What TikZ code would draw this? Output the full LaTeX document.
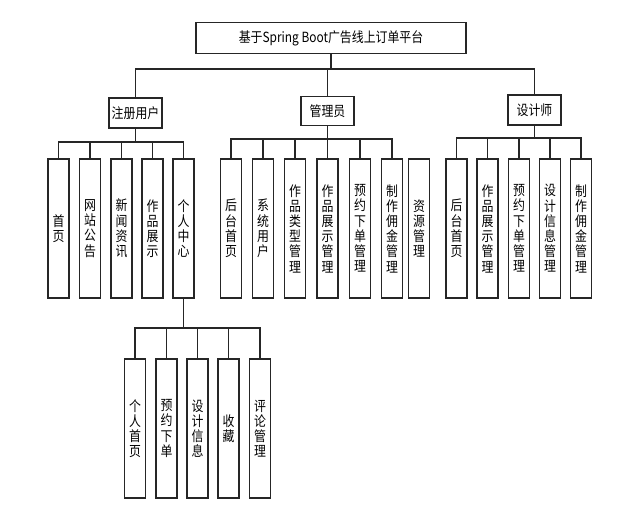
\documentclass[tikz,border=0pt]{standalone}
\usepackage{fontspec}
\newfontfamily\cjk[FakeStretch=0.85]{Noto Sans CJK SC}
\tikzset{
  box/.style={draw=black!85, line width=1.1pt, inner sep=0pt, align=center,
    font=\cjk\fontsize{14}{15.2}\selectfont},
  headbox/.style={box, minimum width=53pt, minimum height=30pt},
  leaf/.style={box, minimum width=21pt, minimum height=139pt},
  conn/.style={draw=black!85, line width=1.1pt}
}
\begin{document}
\begin{tikzpicture}[x=1pt,y=-1pt]
\useasboundingbox (0,0) rectangle (628,516);
% title
\node[box, minimum width=270pt, minimum height=31pt] (root) at (331,38) {基于Spring Boot广告线上订单平台};
% level 2
\node[headbox] (u) at (135.5,113) {注册用户};
\node[headbox, minimum height=29pt] (a) at (327.5,111) {管理员};
\node[headbox] (d) at (534.5,110) {设计师};
% bus coordinates
\coordinate (b0) at (0,69);
\coordinate (bu) at (0,142);
\coordinate (ba) at (0,139);
\coordinate (bd) at (0,138);
\coordinate (bp) at (0,328);
% user leaves
\node[leaf] (u1) at (58.5,228.5) {首\\页};
\node[leaf] (u2) at (90,228.5) {网\\站\\公\\告};
\node[leaf] (u3) at (121.5,228.5) {新\\闻\\资\\讯};
\node[leaf] (u4) at (152.5,228.5) {作\\品\\展\\示};
\node[leaf] (u5) at (183.5,228.5) {个\\人\\中\\心};
% admin leaves
\node[leaf] (a1) at (231,228.5) {后\\台\\首\\页};
\node[leaf] (a2) at (263,228.5) {系\\统\\用\\户};
\node[leaf] (a3) at (295,228.5) {作\\品\\类\\型\\管\\理};
\node[leaf] (a4) at (327.5,228.5) {作\\品\\展\\示\\管\\理};
\node[leaf] (a5) at (360,228.5) {预\\约\\下\\单\\管\\理};
\node[leaf] (a6) at (392,228.5) {制\\作\\佣\\金\\管\\理};
\node[leaf] (a7) at (419,228.5) {资\\源\\管\\理};
% designer leaves
\node[leaf] (d1) at (456.5,228.5) {后\\台\\首\\页};
\node[leaf] (d2) at (487.5,228.5) {作\\品\\展\\示\\管\\理};
\node[leaf] (d3) at (519,228.5) {预\\约\\下\\单\\管\\理};
\node[leaf] (d4) at (550,228.5) {设\\计\\信\\息\\管\\理};
\node[leaf] (d5) at (581,228.5) {制\\作\\佣\\金\\管\\理};
% personal center leaves
\node[leaf] (p1) at (135,428.5) {个\\人\\首\\页};
\node[leaf] (p2) at (166.5,428.5) {预\\约\\下\\单};
\node[leaf] (p3) at (197.5,428.5) {设\\计\\信\\息};
\node[leaf] (p4) at (228.5,428.5) {收\\藏};
\node[leaf] (p5) at (260,428.5) {评\\论\\管\\理};
% connectors
\foreach \c in {u,a,d}
  \draw[conn] (root.south) -- (root.south |- b0) -| (\c.north);
\foreach \c in {u1,u2,u3,u4,u5}
  \draw[conn] (u.south) -- (u.south |- bu) -| (\c.north);
\foreach \c in {a1,a2,a3,a4,a5,a6}
  \draw[conn] (a.south) -- (a.south |- ba) -| (\c.north);
\foreach \c in {d1,d2,d3,d4,d5}
  \draw[conn] (d.south) -- (d.south |- bd) -| (\c.north);
\foreach \c in {p1,p2,p3,p4,p5}
  \draw[conn] (u5.south) -- (u5.south |- bp) -| (\c.north);
\end{tikzpicture}
\end{document}
